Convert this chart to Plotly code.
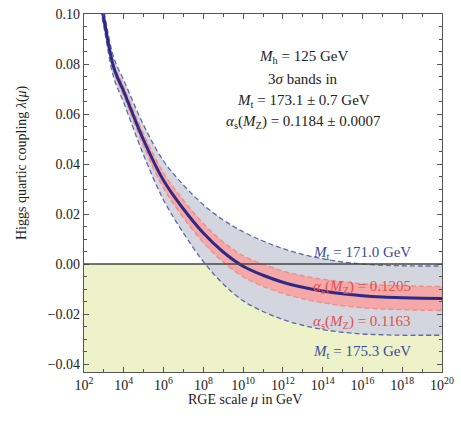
import plotly.graph_objects as go

# log10 of the RGE scale mu (GeV)
log_mu = [2.5, 3, 3.5, 4, 5, 6, 7, 8, 9, 10, 11, 12, 13, 14, 15, 16, 17, 18, 19, 20]
# central value of lambda(mu)
lam_central = [0.120, 0.098, 0.0785, 0.069, 0.0495, 0.0334, 0.022, 0.0124, 0.0048, -0.0009,
               -0.0045, -0.0073, -0.0093, -0.0108, -0.0119, -0.0127, -0.0132, -0.0135, -0.0137, -0.0138]
# M_t = 171.0 GeV edge (upper grey band)
lam_mt_low = [0.1225, 0.1012, 0.0825, 0.0735, 0.0555, 0.0412, 0.0316, 0.0237, 0.0176, 0.0129,
              0.0092, 0.0062, 0.0038, 0.0021, 0.0008, 0.0000, -0.0005, -0.0007, -0.0008, -0.0008]
# M_t = 175.3 GeV edge (lower grey band)
lam_mt_high = [0.1175, 0.0948, 0.0745, 0.0645, 0.0435, 0.0256, 0.0124, 0.0010, -0.0080, -0.0147,
               -0.0190, -0.0222, -0.0245, -0.0262, -0.0273, -0.0280, -0.0283, -0.0285, -0.0285, -0.0285]
# alpha_s(M_Z) = 0.1205 edge (upper red band)
lam_as_high = [0.121, 0.0992, 0.080, 0.0708, 0.0519, 0.0364, 0.0255, 0.0162, 0.0088, 0.0033,
               -0.0001, -0.0028, -0.0047, -0.0061, -0.0071, -0.0079, -0.0084, -0.0087, -0.0089, -0.0090]
# alpha_s(M_Z) = 0.1163 edge (lower red band)
lam_as_low = [0.119, 0.0968, 0.077, 0.0672, 0.0471, 0.0304, 0.0185, 0.0086, 0.0008, -0.0051,
              -0.0089, -0.0118, -0.0139, -0.0155, -0.0167, -0.0175, -0.0180, -0.0183, -0.0185, -0.0186]

x_tick_powers = [2, 4, 6, 8, 10, 12, 14, 16, 18, 20]
y_tick_vals = [0.10, 0.08, 0.06, 0.04, 0.02, 0.00, -0.02, -0.04]
y_tick_text = ["0.10", "0.08", "0.06", "0.04", "0.02", "0.00", "\u22120.02", "\u22120.04"]

mu = [10.0 ** v for v in log_mu]

SERIF = "Liberation Serif"
TXT = "#222222"
GREY_FILL = "#d3d6de"
RED_FILL = "#f5a8a8"
GREY_EDGE = "#5f6aa6"
RED_EDGE = "#f08a8a"
CENTRAL = "#2c2a86"
BLUE_TXT = "#3a4aa0"
RED_TXT = "#e2504e"

fig = go.Figure()

# grey band (M_t)
fig.add_trace(go.Scatter(x=mu, y=lam_mt_high, mode="lines", line=dict(width=0, shape="spline"),
                         hoverinfo="skip", showlegend=False))
fig.add_trace(go.Scatter(x=mu, y=lam_mt_low, mode="lines", line=dict(width=0, shape="spline"),
                         fill="tonexty", fillcolor=GREY_FILL, hoverinfo="skip", showlegend=False))
# red band (alpha_s)
fig.add_trace(go.Scatter(x=mu, y=lam_as_low, mode="lines", line=dict(width=0, shape="spline"),
                         hoverinfo="skip", showlegend=False))
fig.add_trace(go.Scatter(x=mu, y=lam_as_high, mode="lines", line=dict(width=0, shape="spline"),
                         fill="tonexty", fillcolor=RED_FILL, hoverinfo="skip", showlegend=False))
# dashed edges
for arr, col in [(lam_as_low, RED_EDGE), (lam_as_high, RED_EDGE),
                 (lam_mt_low, GREY_EDGE), (lam_mt_high, GREY_EDGE)]:
    fig.add_trace(go.Scatter(x=mu, y=arr, mode="lines",
                             line=dict(color=col, width=1.3, dash="5px,3px", shape="spline"),
                             hoverinfo="skip", showlegend=False))
# central curve
fig.add_trace(go.Scatter(x=mu, y=lam_central, mode="lines",
                         line=dict(color=CENTRAL, width=3, shape="spline"), showlegend=False))

# instability region and zero line
fig.add_shape(type="rect", xref="paper", x0=0, x1=1, yref="y", y0=-0.05, y1=0,
              fillcolor="#eef2c9", line_width=0, layer="below")
fig.add_shape(type="line", xref="paper", x0=0, x1=1, yref="y", y0=0, y1=0,
              line=dict(color="#444444", width=1.5))

ann_font = dict(family=SERIF, size=15, color=TXT)
lines = ["<i>M</i><sub>h</sub> = 125 GeV", "3<i>\u03c3</i> bands in",
         "<i>M</i><sub>t</sub> = 173.1 \u00b1 0.7 GeV",
         "<i>\u03b1</i><sub>s</sub>(<i>M</i><sub>Z</sub>) = 0.1184 \u00b1 0.0007"]
for i, t in enumerate(lines):
    fig.add_annotation(text=t, xref="paper", yref="paper", x=0.612, y=0.88 - i * 0.061,
                       showarrow=False, font=ann_font, xanchor="center", yanchor="middle")

band_labels = [("<i>M</i><sub>t</sub> = 171.0 GeV", 0.0044, BLUE_TXT),
               ("<i>\u03b1</i><sub>s</sub>(<i>M</i><sub>Z</sub>) = 0.1205", -0.0092, RED_TXT),
               ("<i>\u03b1</i><sub>s</sub>(<i>M</i><sub>Z</sub>) = 0.1163", -0.0232, RED_TXT),
               ("<i>M</i><sub>t</sub> = 175.3 GeV", -0.0352, BLUE_TXT)]
for t, yv, c in band_labels:
    fig.add_annotation(text=t, x=16.0, xref="x", y=yv, yref="y", showarrow=False,
                       font=dict(family=SERIF, size=15, color=c), xanchor="center", yanchor="middle")

# axis titles
fig.add_annotation(text="RGE scale <i>\u03bc</i> in GeV", xref="paper", yref="paper",
                   x=0.45, y=-0.078, showarrow=False, font=dict(family=SERIF, size=14, color=TXT),
                   xanchor="center", yanchor="middle")
fig.add_annotation(text="Higgs quartic coupling <i>\u03bb</i>(<i>\u03bc</i>)", xref="paper", yref="paper",
                   x=-0.173, y=0.584, textangle=-90, showarrow=False,
                   font=dict(family=SERIF, size=14, color=TXT), xanchor="center", yanchor="middle")

axis_common = dict(showline=True, linecolor="#555555", linewidth=1.3, mirror="allticks",
                   ticks="inside", tickcolor="#555555", ticklen=5, showgrid=False, zeroline=False,
                   automargin=False, tickfont=dict(family=SERIF, size=14, color=TXT))

fig.update_xaxes(type="log", range=[2, 20],
                 tickvals=[10.0 ** p for p in x_tick_powers],
                 ticktext=["10<sup>%d</sup>" % p for p in x_tick_powers],
                 minor=dict(ticks="inside", ticklen=3, tickcolor="#555555", dtick=1),
                 **axis_common)
fig.update_yaxes(range=[-0.0432, 0.10], tickvals=y_tick_vals, ticktext=y_tick_text,
                 minor=dict(ticks="inside", ticklen=3, tickcolor="#555555", dtick=0.005),
                 **axis_common)

fig.update_layout(width=461, height=426, margin=dict(l=84, r=19, t=14, b=54),
                  paper_bgcolor="white", plot_bgcolor="white", showlegend=False)

fig.write_html("out.html", config={"displayModeBar": False},
               post_script="document.body.style.margin='0';document.body.style.overflow='hidden';")
